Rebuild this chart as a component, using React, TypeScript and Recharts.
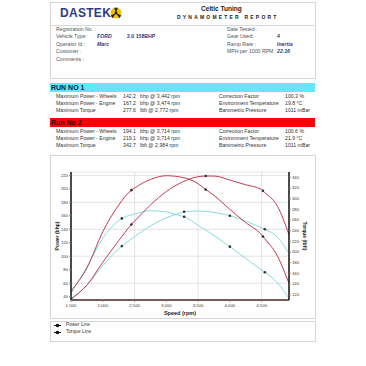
import { LineChart, Line, XAxis, YAxis, CartesianGrid } from "recharts";

// Run No 1 (cyan)
const run1Rpm = [1500, 1750, 2000, 2250, 2300, 2500, 2750, 3000, 3250, 3280, 3500, 3750, 4000, 4250, 4500, 4550, 4750, 4930];
const run1Power = [35, 57, 86, 111, 115, 129, 145, 157, 165, 166, 167, 165, 160, 152, 142, 140, 128, 104];
const run1Torque = [123, 172, 226, 259, 263, 271, 277.5, 275, 267, 266, 250, 231, 210, 188, 166, 162, 142, 113];
const run1Marks = [2300, 3280, 4000, 4550];

// Run No 2 (red)
const run2Rpm = [1500, 1750, 2000, 2250, 2450, 2500, 2750, 3000, 3250, 3500, 3620, 3750, 4000, 4250, 4500, 4520, 4750, 4930];
const run2Power = [37, 57, 91, 123, 147, 152, 176, 196, 210, 218, 219, 219, 213, 206, 199, 197, 174, 132];
const run2Torque = [127, 170, 238, 288, 316, 320, 336, 343, 340, 328, 317, 306, 280, 255, 232, 229, 192, 141];
const run2Marks = [1500, 2450, 3620, 4520];

const rpmTicks = [1500, 2000, 2500, 3000, 3500, 4000, 4500];
const powerTicks = [40, 50, 60, 70, 80, 90, 100, 110, 120, 130, 140, 150, 160, 170, 180, 190, 200, 210, 220];
const torqueTicks = [120, 140, 160, 180, 200, 220, 240, 260, 280, 300, 320, 340];

const headerLeft = [
  ["Registration No. :", "", ""],
  ["Vehicle Type:", "FORD", "2.0 158BHP"],
  ["Operator Id :", "Marc", ""],
  ["Customer :", "", ""],
  ["Comments :", "", ""],
];
const headerRight = [
  ["Date Tested :", ""],
  ["Gear Used:", "4"],
  ["Ramp Rate :", "Inertia"],
  ["MPH per 1000 RPM :", "22.16"],
];

const run1Rows = [
  ["Maximum Power - Wheels", "142.2", "bhp @ 3,442 rpm", "Correction Factor", "100.3 %"],
  ["Maximum Power - Engine", "167.2", "bhp @ 3,474 rpm", "Environment Temperature", "19.8 °C"],
  ["Maximum Torque", "277.6", "lbft @ 2,772 rpm", "Barometric Pressure", "1011 mBar"],
];
const run2Rows = [
  ["Maximum Power - Wheels", "194.1", "bhp @ 3,714 rpm", "Correction Factor", "100.6 %"],
  ["Maximum Power - Engine", "219.1", "bhp @ 3,714 rpm", "Environment Temperature", "21.9 °C"],
  ["Maximum Torque", "342.7", "lbft @ 2,984 rpm", "Barometric Pressure", "1011 mBar"],
];

const RED = "#c53b4f";
const CYAN = "#86dcdc";
const FONT = "'Liberation Sans', Arial, sans-serif";

const toRows = (rpm: number[], power: number[], torque: number[], marks: number[]) =>
  rpm.map((r, i) => ({ rpm: r, power: power[i], torque: torque[i], mark: marks.includes(r) }));

const run1Data = toRows(run1Rpm, run1Power, run1Torque, run1Marks);
const run2Data = toRows(run2Rpm, run2Power, run2Torque, run2Marks);

function T({ x, y, size = 5.2, children, style }: any) {
  return (
    <div
      style={{
        position: "absolute",
        left: x,
        top: y - size / 2,
        fontSize: size,
        lineHeight: 1,
        whiteSpace: "nowrap",
        fontFamily: FONT,
        ...style,
      }}
    >
      {children}
    </div>
  );
}

const markDot = (props: any) => {
  const { cx, cy, payload, index } = props;
  if (!payload?.mark) return <g key={`n-${index}`} />;
  return <circle key={`d-${index}`} cx={cx} cy={cy} r={1.3} fill="#333" />;
};

function RunBlock({ top, title, color, textColor, rows }: any) {
  return (
    <>
      <div style={{ position: "absolute", left: 50, top, width: 265, height: 9, background: color }} />
      <T x={51} y={top + 4.6} size={7} style={{ fontWeight: "bold", color: textColor }}>
        {title}
      </T>
      {rows.map((r: string[], i: number) => {
        const y = top + 13.5 + i * 6.8;
        return (
          <div key={i}>
            <T x={56} y={y} style={{ color: "#333" }}>{r[0]}</T>
            <T x={123} y={y} style={{ color: "#333" }}>{r[1]}</T>
            <T x={140} y={y} style={{ color: "#333" }}>{r[2]}</T>
            <T x={219} y={y} style={{ color: "#333" }}>{r[3]}</T>
            <T x={285} y={y} style={{ color: "#333" }}>{r[4]}</T>
          </div>
        );
      })}
    </>
  );
}

export default function App() {
  return (
    <div
      style={{
        position: "absolute",
        left: 0,
        top: 0,
        width: 366,
        height: 366,
        background: "#fff",
        overflow: "hidden",
        fontFamily: FONT,
      }}
    >
      {/* header box */}
      <div style={{ position: "absolute", left: 50, top: 2, width: 264, height: 75, border: "1px solid #d6d6d6" }} />
      <div style={{ position: "absolute", left: 51, top: 25, width: 263, height: 1, background: "#d6d6d6" }} />
      <T x={60} y={12.5} size={12} style={{ fontWeight: "bold", color: "#2e3a8c", letterSpacing: 0.3 }}>
        DASTEK
      </T>
      <svg style={{ position: "absolute", left: 110, top: 7 }} width={12} height={12}>
        <circle cx={6} cy={6} r={5.6} fill="#f2c200" />
        <path d="M6 6 L4.2 0.8 L7.8 0.8 Z" fill="#222" />
        <path d="M6 6 L11.2 8.4 L9.4 11.2 Z" fill="#222" />
        <path d="M6 6 L0.8 8.4 L2.6 11.2 Z" fill="#222" />
        <circle cx={6} cy={6} r={1.4} fill="#222" />
      </svg>
      <T x={201} y={9} size={6.5} style={{ fontWeight: "bold", color: "#222" }}>
        Celtic Tuning
      </T>
      <T x={177} y={17.2} size={5} style={{ fontWeight: "bold", color: "#222", letterSpacing: 2.2 }}>
        DYNAMOMETER REPORT
      </T>
      {headerLeft.map((r, i) => {
        const y = 29.5 + i * 7.4;
        return (
          <div key={i}>
            <T x={56} y={y} style={{ color: "#555" }}>{r[0]}</T>
            <T x={97} y={y} style={{ color: "#2e3a8c", fontStyle: "italic", fontWeight: "bold" }}>{r[1]}</T>
            <T x={127} y={y} style={{ color: "#2e3a8c", fontWeight: "bold" }}>{r[2]}</T>
          </div>
        );
      })}
      {headerRight.map((r, i) => {
        const y = 29.5 + i * 7.4;
        return (
          <div key={i}>
            <T x={227} y={y} style={{ color: "#555" }}>{r[0]}</T>
            <T x={277} y={y} style={{ color: "#2e3a8c", fontStyle: "italic", fontWeight: "bold" }}>{r[1]}</T>
          </div>
        );
      })}

      <RunBlock top={83} title="RUN NO 1" color="#66e5f7" textColor="#114" rows={run1Rows} />
      <RunBlock top={118} title="Run No 2" color="#ff0000" textColor="#300" rows={run2Rows} />

      {/* chart box */}
      <div style={{ position: "absolute", left: 50, top: 155, width: 264, height: 162, border: "1px solid #d6d6d6" }} />
      <div style={{ position: "absolute", left: 51, top: 155 }}>
        <LineChart width={263} height={162} margin={{ top: 17, right: 0, bottom: 0, left: 0 }}>
          <CartesianGrid yAxisId="left" stroke="#dcdcdc" strokeWidth={0.8} />
          <XAxis
            type="number"
            dataKey="rpm"
            domain={[1500, 4930]}
            ticks={rpmTicks}
            allowDataOverflow
            height={17}
            tickSize={2}
            tick={{ fontSize: 4.3, fill: "#333", fontFamily: FONT }}
            tickFormatter={(v) => v.toLocaleString("en-US")}
            axisLine={{ stroke: "#4a2a2a", strokeWidth: 1.5 }}
            tickLine={{ stroke: "#888" }}
            label={{
              value: "Speed (rpm)",
              position: "insideBottom",
              offset: 2,
              style: { fontSize: 5.5, fontWeight: "bold", fill: "#222", fontFamily: FONT },
            }}
          />
          <YAxis
            yAxisId="left"
            type="number"
            domain={[35, 225]}
            ticks={powerTicks}
            allowDataOverflow
            width={20}
            tickSize={2}
            tickMargin={1}
            tick={{ fontSize: 4.2, fill: "#333", fontFamily: FONT }}
            axisLine={{ stroke: "#111", strokeWidth: 1.5 }}
            tickLine={{ stroke: "#888" }}
            label={{
              value: "Power (bhp)",
              angle: -90,
              position: "insideLeft",
              offset: 6,
              style: { textAnchor: "middle", fontSize: 5, fontWeight: "bold", fill: "#222", fontFamily: FONT },
            }}
          />
          <YAxis
            yAxisId="right"
            orientation="right"
            type="number"
            domain={[110, 350]}
            ticks={torqueTicks}
            allowDataOverflow
            width={25}
            tickSize={2}
            tickMargin={1}
            tick={{ fontSize: 4.2, fill: "#333", fontFamily: FONT }}
            axisLine={{ stroke: "#111", strokeWidth: 1.5 }}
            tickLine={{ stroke: "#888" }}
            label={{
              value: "Torque (lbft)",
              angle: 90,
              position: "insideRight",
              offset: 9,
              style: { textAnchor: "middle", fontSize: 5, fontWeight: "bold", fill: "#222", fontFamily: FONT },
            }}
          />
          <Line data={run1Data} yAxisId="right" dataKey="torque" type="monotone" stroke={CYAN} strokeWidth={1} dot={markDot} activeDot={false} isAnimationActive={false} />
          <Line data={run1Data} yAxisId="left" dataKey="power" type="monotone" stroke={CYAN} strokeWidth={1} dot={markDot} activeDot={false} isAnimationActive={false} />
          <Line data={run2Data} yAxisId="right" dataKey="torque" type="monotone" stroke={RED} strokeWidth={1} dot={markDot} activeDot={false} isAnimationActive={false} />
          <Line data={run2Data} yAxisId="left" dataKey="power" type="monotone" stroke={RED} strokeWidth={1} dot={markDot} activeDot={false} isAnimationActive={false} />
        </LineChart>
      </div>

      {/* legend box */}
      <div style={{ position: "absolute", left: 50, top: 321, width: 264, height: 19, border: "1px solid #d6d6d6" }} />
      {["Power Line", "Torque Line"].map((name, i) => {
        const y = 325.5 + i * 7;
        return (
          <div key={name}>
            <svg style={{ position: "absolute", left: 54, top: y - 2.5 }} width={7} height={5}>
              <line x1={0} y1={2.5} x2={7} y2={2.5} stroke="#111" strokeWidth={1} />
              <circle cx={3.5} cy={2.5} r={1.8} fill="#111" />
            </svg>
            <T x={66} y={y} size={4.8} style={{ color: "#333" }}>{name}</T>
          </div>
        );
      })}
    </div>
  );
}
